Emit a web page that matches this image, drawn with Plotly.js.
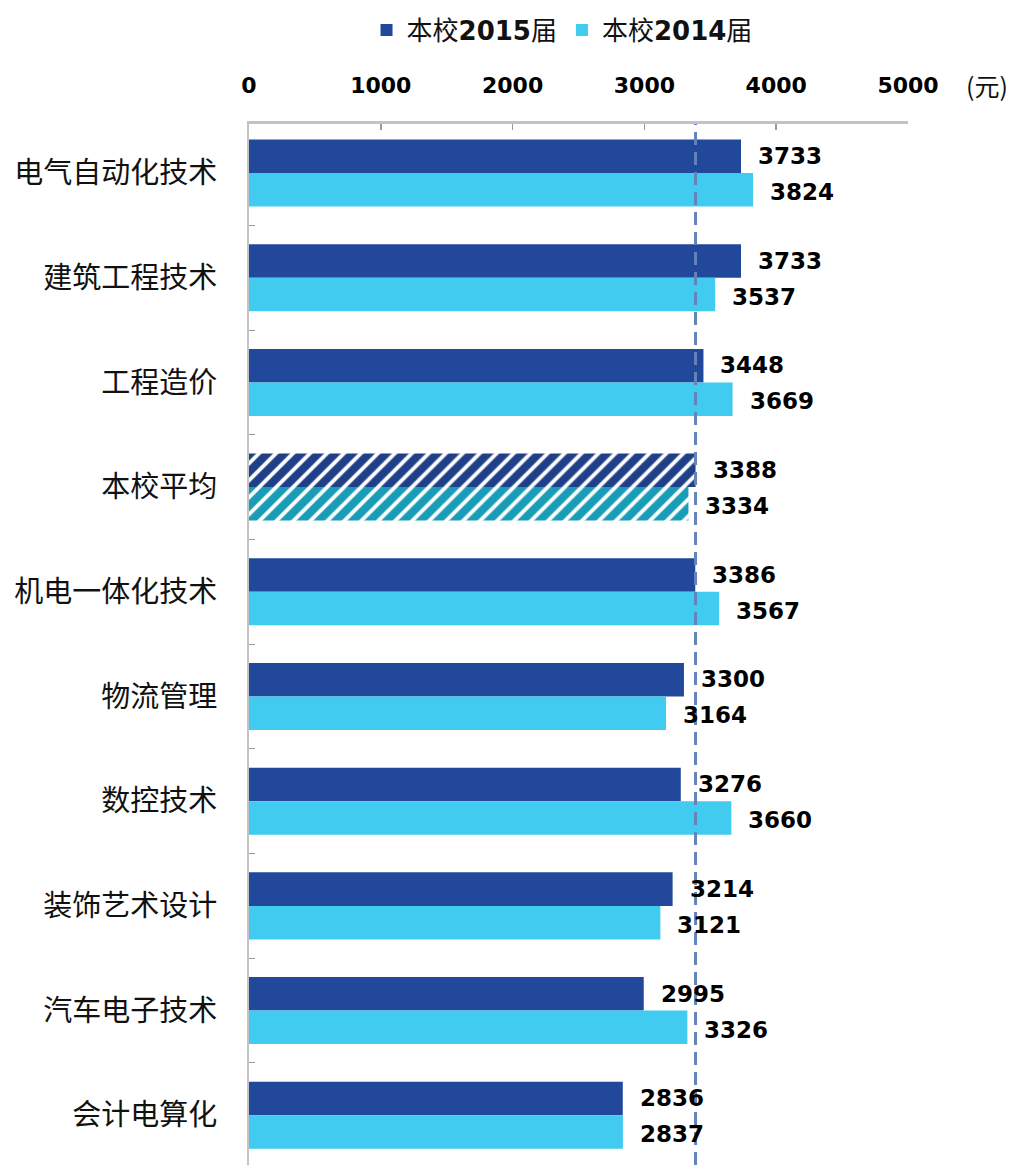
<!DOCTYPE html>
<html>
<head>
<meta charset="utf-8">
<script src="https://cdn.plot.ly/plotly-3.0.1.min.js"></script>
<style>html,body{margin:0;padding:0;background:#fff;}#chart{width:1011px;height:1165px;}</style>
</head>
<body>
<div id="chart"></div>
<script>
var categories = ["电气自动化技术","建筑工程技术","工程造价","本校平均","机电一体化技术","物流管理","数控技术","装饰艺术设计","汽车电子技术","会计电算化"];
var values2015 = [3733,3733,3448,3388,3386,3300,3276,3214,2995,2836];
var values2014 = [3824,3537,3669,3334,3567,3164,3660,3121,3326,2837];
var averageLabel = "本校平均";
var averageValue = 3388;
var xTicks = [0,1000,2000,3000,4000,5000];
var unitLabel = "(元)";

var dark = "#21489A", light = "#42CBF0";
var darkHatchBg = "#1F3F88", darkHatchFg = "#A3B6E6";
var lightHatchBg = "#189CB8", lightHatchFg = "#93E8F8";

function isAvg(c){ return c === averageLabel; }

function makeTrace(name, vals, base, hbg, hfg){
  return {
    type: "bar", orientation: "h", name: name,
    y: categories, x: vals,
    marker: {
      color: categories.map(function(c){ return isAvg(c) ? hbg : base; }),
      line: {width: 0},
      pattern: {
        shape: categories.map(function(c){ return isAvg(c) ? "/" : ""; }),
        fgcolor: categories.map(function(c){ return isAvg(c) ? hfg : base; }),
        fgopacity: 1,
        size: 12, solidity: 0.32, fillmode: "overlay"
      }
    },
    hoverinfo: "x+y"
  };
}
var trace2015 = makeTrace("本校<b>2015</b>届", values2015, dark, darkHatchBg, darkHatchFg);
var trace2014 = makeTrace("本校<b>2014</b>届", values2014, light, lightHatchBg, lightHatchFg);

var labelFont = {family: "DejaVu Sans", size: 23, color: "#000"};
var annotations = [];
categories.forEach(function(c, i){
  annotations.push({x: values2015[i], y: c, xref: "x", yref: "y", text: "<b>" + values2015[i] + "</b>",
    showarrow: false, xanchor: "left", yanchor: "middle", xshift: 15, yshift: 17, font: labelFont});
  annotations.push({x: values2014[i], y: c, xref: "x", yref: "y", text: "<b>" + values2014[i] + "</b>",
    showarrow: false, xanchor: "left", yanchor: "middle", xshift: 15, yshift: -19, font: labelFont});
});
annotations.push({x: 1.12, y: 1.0375, xref: "paper", yref: "paper", text: unitLabel, showarrow: false,
  xanchor: "center", yanchor: "middle", font: {family: "Noto Sans CJK SC", size: 25, color: "#111"}});

var layout = {
  width: 1011, height: 1165,
  margin: {l: 249, r: 103, t: 124, b: 0, pad: 0},
  paper_bgcolor: "#fff", plot_bgcolor: "#fff",
  barmode: "group", bargap: 0.36, bargroupgap: 0,
  showlegend: true,
  legend: {orientation: "h", x: 0.475, xanchor: "center", y: 1.0903, yanchor: "middle",
    font: {family: "DejaVu Sans, Noto Sans CJK SC", size: 26, color: "#111"}, traceorder: "normal",
    itemwidth: 30, bgcolor: "rgba(0,0,0,0)"},
  xaxis: {side: "top", range: [0, 5000], tickvals: xTicks, ticktext: xTicks.map(function(v){return "<b>"+v+"</b>";}),
    ticks: "inside", ticklen: 6, tickwidth: 1.5, tickcolor: "#9a9a9a",
    showline: true, linecolor: "#C3C3C3", linewidth: 3, showgrid: false, zeroline: false,
    ticklabelstandoff: 19,
    tickfont: {family: "DejaVu Sans", size: 22, color: "#000"}, fixedrange: true},
  yaxis: {type: "category", range: [9.475, -0.468], ticks: "inside", tickson: "boundaries", ticklen: 6,
    tickcolor: "#9a9a9a", showline: true, linecolor: "#C3C3C3", linewidth: 2, showgrid: false, zeroline: false,
    ticklabelstandoff: 24,
    tickfont: {family: "Noto Sans CJK SC", size: 29, color: "#111"}, fixedrange: true},
  shapes: [{type: "line", xref: "x", yref: "paper", x0: averageValue, x1: averageValue, y0: 0, y1: 1,
    layer: "above", line: {color: "#6483B8", width: 3, dash: "13px,7px"}}],
  annotations: annotations
};

Plotly.newPlot("chart", [trace2015, trace2014], layout, {displayModeBar: false, staticPlot: true});
</script>
</body>
</html>
